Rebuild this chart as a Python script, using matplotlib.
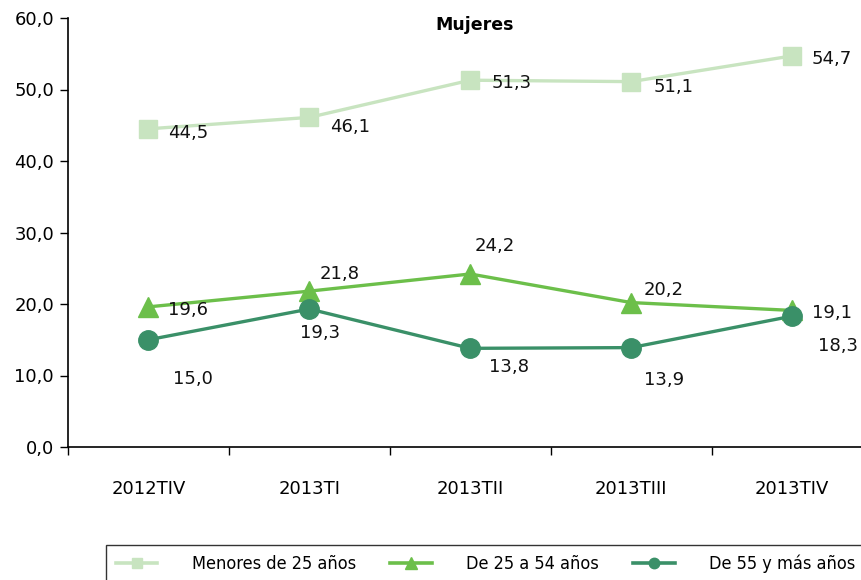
import matplotlib
matplotlib.use("Agg")
import matplotlib.pyplot as plt
from matplotlib.lines import Line2D
from matplotlib.ticker import FixedLocator, FuncFormatter

periodos = ["2012TIV", "2013TI", "2013TII", "2013TIII", "2013TIV"]
menores_25 = [44.5, 46.1, 51.3, 51.1, 54.7]
de_25_a_54 = [19.6, 21.8, 24.2, 20.2, 19.1]
de_55_mas = [15.0, 19.3, 13.8, 13.9, 18.3]

c_menores = "#c8e4c0"
c_medio = "#6cbf4a"
c_mayores = "#3a9068"

fig = plt.figure(figsize=(8.61, 5.8), dpi=100)
ax = fig.add_axes([68 / 861, 1 - 447 / 580, (872.5 - 68) / 861, (447 - 18) / 580])

x = list(range(len(periodos)))
ax.plot(x, menores_25, color=c_menores, lw=2.4, marker="s", ms=13, zorder=3)
ax.plot(x, de_25_a_54, color=c_medio, lw=2.4, marker="^", ms=14, zorder=4)
ax.plot(x, de_55_mas, color=c_mayores, lw=2.4, marker="o", ms=14, zorder=5)

def fmt(v):
    return f"{v:.1f}".replace(".", ",")

# label offsets in pixels (dx, dy), left-aligned, vertically centred
off_menores = [(20, -4), (21, -10), (21, -3), (22, -5), (20, -3)]
off_medio = [(20, -3), (10, 17), (4, 28), (12, 13), (20, -3)]
off_mayores = [(25, -39), (-9, -24), (19, -19), (13, -32), (26, -30)]

for serie, offs in ((menores_25, off_menores), (de_25_a_54, off_medio), (de_55_mas, off_mayores)):
    for i, (v, (dx, dy)) in enumerate(zip(serie, offs)):
        ax.annotate(fmt(v), (i, v), xytext=(dx, dy), textcoords="offset pixels",
                    ha="left", va="center", fontsize=13, color="#111111", zorder=6)

ax.set_xlim(-0.5, len(periodos) - 0.5)
ax.set_ylim(0, 60)
ax.set_yticks([0, 10, 20, 30, 40, 50, 60])
ax.yaxis.set_major_formatter(FuncFormatter(lambda v, p: fmt(v)))
ax.set_xticks(x)
ax.set_xticklabels(periodos)
ax.xaxis.set_minor_locator(FixedLocator([i - 0.5 for i in range(len(periodos) + 1)]))
ax.tick_params(axis="x", which="major", length=0, pad=24, labelsize=13)
ax.tick_params(axis="x", which="minor", length=6, width=1, direction="out")
ax.tick_params(axis="y", length=6, width=1, labelsize=13, pad=4)
for s in ("top", "right"):
    ax.spines[s].set_visible(False)
for s in ("left", "bottom"):
    ax.spines[s].set_linewidth(1.2)

ax.text(0.5 * (len(periodos) - 1) + 0.03, 59.0, "Mujeres", ha="center", va="center",
        fontsize=12.5, fontweight="bold")

handles = [
    Line2D([], [], color=c_menores, lw=2.6, marker="s", ms=7.5),
    Line2D([], [], color=c_medio, lw=2.6, marker="^", ms=8),
    Line2D([], [], color=c_mayores, lw=2.6, marker="o", ms=7.5),
]
labels = ["Menores de 25 años", "De 25 a 54 años", "De 55 y más años"]
leg = fig.legend(handles, labels, ncol=3, loc="upper left",
                 bbox_to_anchor=(106 / 861, 1 - 545 / 580), frameon=True, fancybox=False,
                 edgecolor="black", handlelength=2.3, columnspacing=1.9,
                 handletextpad=1.9, borderpad=0.55, borderaxespad=0.0,
                 prop={"family": "DejaVu Sans", "stretch": "condensed", "size": 13})
leg.get_frame().set_linewidth(1.0)

fig.savefig("out.png", dpi=100)
